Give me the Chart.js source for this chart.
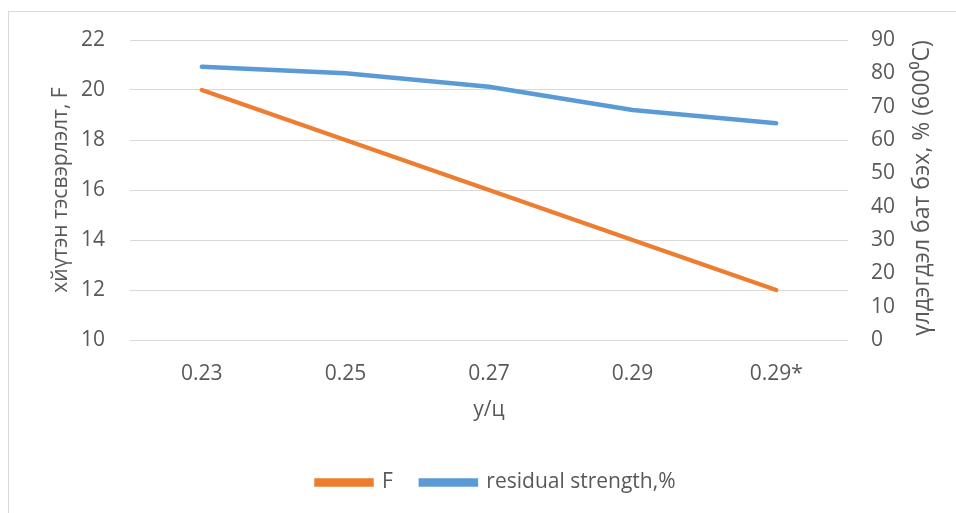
<!DOCTYPE html>
<html>
<head>
<meta charset="utf-8">
<script src="https://cdn.jsdelivr.net/npm/chart.js@4"></script>
<style>
  html, body { margin: 0; padding: 0; background: #fff; }
  #wrap { position: relative; width: 956px; height: 513px; }
  #frame { position: absolute; left: 8px; top: 11px; right: -2px; bottom: -2px;
           border-left: 1px solid #d9d9d9; border-top: 1px solid #d9d9d9; }
</style>
</head>
<body>
<div id="wrap">
  <div id="frame"></div>
  <canvas id="chart"></canvas>
</div>
<script>
//----------------------------------------------
// data
//----------------------------------------------
const ratioLabels = ['0.23', '0.25', '0.27', '0.29', '0.29*'];
const forceValues = [20, 18, 16, 14, 12];
const residualValues = [82, 80, 76, 69, 65];

const rightTitle = 'үлдэгдэл бат бэх, % (600⁰C)';

const textColor = '#595959';
const fontFamily = '"Open Sans", sans-serif';

// right axis title reads bottom-to-top like the Excel original
const rightTitlePlugin = {
    id: 'rightTitle',
    afterDraw(chart) {
        const c = chart.ctx;
        const area = chart.chartArea;
        c.save();
        c.translate(922, (area.top + area.bottom) / 2 - 2);
        c.rotate(-Math.PI / 2);
        c.fillStyle = textColor;
        c.font = '23px ' + fontFamily;
        c.textAlign = 'center';
        c.textBaseline = 'middle';
        c.fillText(rightTitle, 0, 0);
        c.restore();
    }
};

const ctx = document.getElementById('chart').getContext('2d');

const chart = new Chart(ctx, {
    type: 'line',
    data: {
        labels: ratioLabels,
        datasets: [{
            label: 'F',
            data: forceValues,
            yAxisID: 'y',
            borderColor: '#ed7d31',
            backgroundColor: '#ed7d31',
            borderWidth: 4.5,
            borderCapStyle: 'round',
            pointRadius: 0,
            tension: 0
        }, {
            label: 'residual strength,%',
            data: residualValues,
            yAxisID: 'y1',
            borderColor: '#5b9bd5',
            backgroundColor: '#5b9bd5',
            borderWidth: 4.5,
            borderCapStyle: 'round',
            pointRadius: 0,
            tension: 0
        }]
    },
    plugins: [rightTitlePlugin],
    options: {
        responsive: true,
        maintainAspectRatio: false,
        animation: false,
        layout: {
            padding: { left: 36, right: 0, top: 40, bottom: 10 }
        },
        plugins: {
            tooltip: { enabled: false },
            legend: {
                position: 'bottom',
                labels: {
                    color: textColor,
                    font: { family: fontFamily, size: 21 },
                    boxWidth: 55,
                    boxHeight: 4,
                    padding: 28
                }
            }
        },
        scales: {
            x: {
                offset: true,
                grid: { display: false },
                border: { display: false },
                ticks: {
                    color: textColor,
                    font: { family: fontFamily, size: 21 },
                    padding: 13
                },
                title: {
                    display: true,
                    text: 'у/ц',
                    color: textColor,
                    font: { family: fontFamily, size: 21 },
                    padding: { top: 0, bottom: 21 }
                },
                afterFit: (scale) => { scale.height = 104; }
            },
            y: {
                position: 'left',
                min: 10,
                max: 22,
                ticks: {
                    stepSize: 2,
                    color: textColor,
                    font: { family: fontFamily, size: 21 },
                    padding: 25
                },
                grid: { color: '#d9d9d9', lineWidth: 1, drawTicks: false },
                border: { display: false },
                title: {
                    display: true,
                    text: 'хйүтэн тэсвэрлэлт, F',
                    color: textColor,
                    font: { family: fontFamily, size: 21 },
                    padding: { top: 12, bottom: 0 }
                },
                afterFit: (scale) => { scale.width = 94; }
            },
            y1: {
                position: 'right',
                min: 0,
                max: 90,
                ticks: {
                    stepSize: 10,
                    color: textColor,
                    font: { family: fontFamily, size: 21 },
                    padding: 23
                },
                grid: { display: false, drawTicks: false },
                border: { display: false },
                afterFit: (scale) => { scale.width = 108; }
            }
        }
    }
});
</script>
</body>
</html>
